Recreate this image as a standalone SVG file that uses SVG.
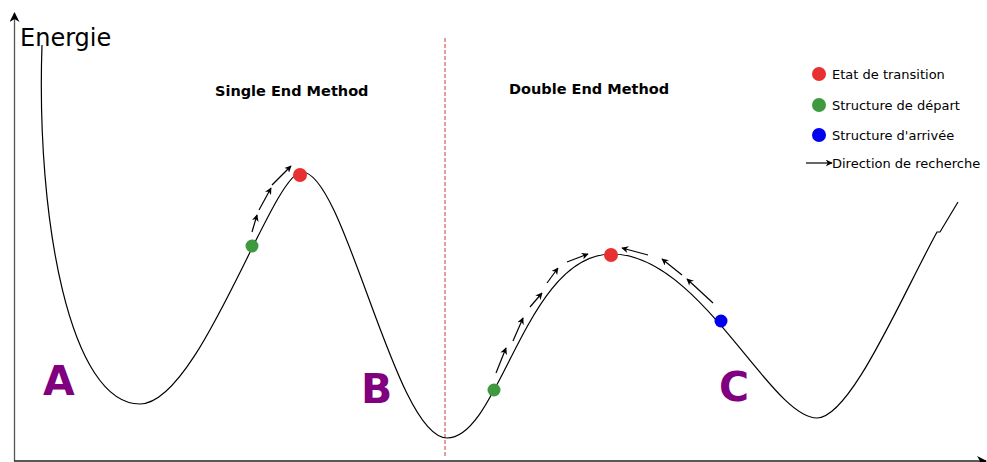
<svg xmlns="http://www.w3.org/2000/svg" width="987" height="462" viewBox="0 0 987 462">
<defs>
<marker id="ah" viewBox="0 0 10 10" refX="9" refY="5" markerWidth="7" markerHeight="7" orient="auto" markerUnits="userSpaceOnUse"><path d="M0,0 L10,5 L0,10 L3,5 Z" fill="#000"/></marker>
<marker id="ax" viewBox="0 0 10 10" refX="9" refY="5" markerWidth="10" markerHeight="10" orient="auto" markerUnits="userSpaceOnUse"><path d="M0,0 L10,5 L0,10 L3,5 Z" fill="#000"/></marker>
</defs>
<style>
.dir{stroke:#000;stroke-width:1.2;fill:none;marker-end:url(#ah)}
.lbl{font-family:"DejaVu Sans",sans-serif;font-size:13px;fill:#000}
.big{font-family:"DejaVu Sans",sans-serif;font-weight:bold;font-size:41px;fill:#800080}
.title{font-family:"DejaVu Sans",sans-serif;font-weight:bold;font-size:14.5px;fill:#000}
.red{fill:#e83030}.green{fill:#3f9a3f}.blue{fill:#0000ee}
</style>
<rect width="987" height="462" fill="#fff"/>
<g id="axes">
<line x1="14.5" y1="461" x2="14.5" y2="13" stroke="#555" stroke-width="1.3" marker-end="url(#ax)"/>
<line x1="14" y1="461" x2="986" y2="461" stroke="#222" stroke-width="1.3" marker-end="url(#ax)"/>
<text x="20" y="46" font-family="DejaVu Sans,sans-serif" font-size="24" fill="#000">Energie</text>
</g>
<g id="divider"><line x1="445" y1="38" x2="445" y2="456" stroke="#c83c3c" stroke-width="1" stroke-dasharray="4,2"/></g>
<g id="curve"><path d="M42,45 C36,220 70,404 140,404 C200,404 272,172 302,172 C345,172 395,438 447,438 C500,438 525,254 612,254 C700,254 770,418 817,418 C850,418 900,300 937,232 L940,232 L958,202" fill="none" stroke="#000" stroke-width="1.2"/></g>
<g id="titles">
<text class="title" x="215" y="96">Single End Method</text>
<text class="title" x="509" y="94">Double End Method</text>
</g>
<g id="labels">
<text class="big" x="43" y="395">A</text>
<text class="big" x="361" y="403">B</text>
<text class="big" x="719" y="401">C</text>
</g>
<g id="connectors">
<line class="dir" x1="252" y1="232" x2="257" y2="215"/>
<line class="dir" x1="259" y1="210" x2="271" y2="188"/>
<line class="dir" x1="272" y1="185" x2="291" y2="166"/>
<line class="dir" x1="496" y1="373" x2="506" y2="348"/>
<line class="dir" x1="513" y1="341" x2="523" y2="318"/>
<line class="dir" x1="530" y1="307" x2="542" y2="293"/>
<line class="dir" x1="547" y1="283" x2="558" y2="268"/>
<line class="dir" x1="567" y1="262" x2="588" y2="254"/>
<line class="dir" x1="648" y1="255" x2="622" y2="248"/>
<line class="dir" x1="682" y1="275" x2="662" y2="259"/>
<line class="dir" x1="713" y1="303" x2="687" y2="279"/>
</g>
<g id="points">
<circle class="red" cx="300" cy="175" r="7"/>
<circle class="green" cx="252" cy="246" r="6.5"/>
<circle class="green" cx="494" cy="390" r="6.5"/>
<circle class="red" cx="611" cy="255" r="7"/>
<circle class="blue" cx="721" cy="321" r="6.5"/>
</g>
<g id="legend">
<circle class="red" cx="819" cy="74" r="7"/>
<text class="lbl" x="832" y="79">Etat de transition</text>
<circle class="green" cx="819" cy="105" r="7"/>
<text class="lbl" x="832" y="110">Structure de départ</text>
<circle class="blue" cx="819" cy="135" r="7"/>
<text class="lbl" x="832" y="140">Structure d'arrivée</text>
<line class="dir" x1="806" y1="163" x2="832" y2="163"/>
<text class="lbl" x="832" y="168">Direction de recherche</text>
</g>
</svg>
